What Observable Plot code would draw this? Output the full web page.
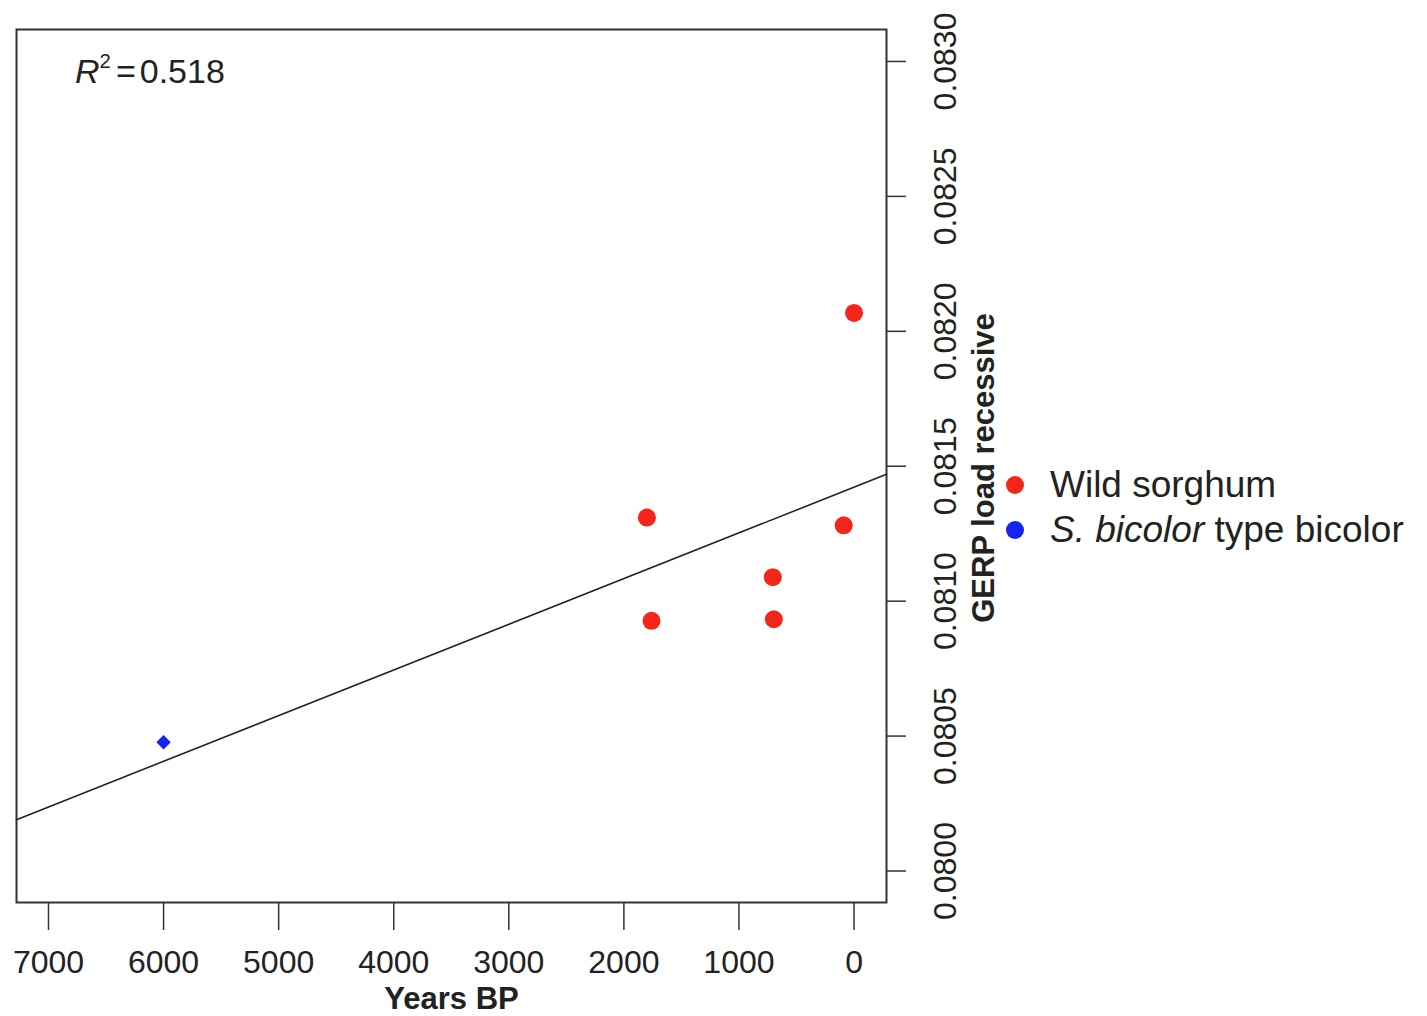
<!DOCTYPE html>
<html><head><meta charset="utf-8">
<script src="https://cdn.jsdelivr.net/npm/d3@7"></script>
<script src="https://cdn.jsdelivr.net/npm/@observablehq/plot@0.6"></script>
<style>
body{margin:0;background:#fff;}
#wrap{position:relative;width:1427px;height:1016px;font-family:"Liberation Sans",Arial,sans-serif;color:#222;}
#r2{position:absolute;left:75px;top:51px;font-size:34px;line-height:40px;white-space:nowrap;}
#r2 sup{font-size:0.6em;vertical-align:0.75em;line-height:0;}
#r2 .eq{margin:0 4px 0 5px;}
.leg{position:absolute;left:1006px;height:44px;display:flex;align-items:center;font-size:37px;white-space:nowrap;}
.leg .dot{width:18px;height:18px;border-radius:50%;margin-right:26px;flex:none;}
</style></head><body><div id="wrap"></div>
<script>
// Data
const years = [0, 1800, 1760, 706, 697, 90, 6000];
const gerp = [0.082068, 0.081310, 0.080927, 0.081089, 0.080933, 0.081281, 0.080477];
const groups = ["Wild sorghum","Wild sorghum","Wild sorghum","Wild sorghum","Wild sorghum","Wild sorghum","S. bicolor type bicolor"];
const xTicks = [0, 1000, 2000, 3000, 4000, 5000, 6000, 7000];
const yTicks = [0.0800, 0.0805, 0.0810, 0.0815, 0.0820, 0.0825, 0.0830];
const xDomain = [7278, -282];
const yDomain = [0.0798833, 0.0831185];
const r2Label = "0.518";
const legendItems = ["Wild sorghum", "S. bicolor type bicolor"];
const colors = {"Wild sorghum": "#f2261a", "S. bicolor type bicolor": "#1622ee"};

const rows = years.map((x, i) => ({x, y: gerp[i], g: groups[i]}));
const wild = rows.filter(d => d.g === "Wild sorghum");
const bic = rows.filter(d => d.g !== "Wild sorghum");

// least squares fit (abline across plot)
const mx = d3.mean(rows, d => d.x), my = d3.mean(rows, d => d.y);
const slope = d3.sum(rows, d => (d.x - mx) * (d.y - my)) / d3.sum(rows, d => (d.x - mx) ** 2);
const icpt = my - slope * mx;
const fit = xDomain.map(x => ({x, y: icpt + slope * x}));

const plot = Plot.plot({
  width: 1427, height: 1016,
  marginTop: 29, marginRight: 541, marginBottom: 114, marginLeft: 16,
  style: {fontFamily: "'Liberation Sans', Arial, sans-serif", fontSize: "32px", color: "#222", background: "#fff"},
  x: {domain: xDomain, range: [16, 886]},
  y: {domain: yDomain},
  marks: [
    Plot.frame({stroke: "#333", strokeWidth: 2}),
    Plot.line(fit, {x: "x", y: "y", stroke: "#222", strokeWidth: 1.6}),
    Plot.dot(wild, {x: "x", y: "y", r: 9, fill: colors["Wild sorghum"], stroke: "none"}),
    Plot.dot(bic, {x: "x", y: "y", r: 6.5, symbol: "diamond2", fill: colors["S. bicolor type bicolor"], stroke: "none"}),
    Plot.axisX({ticks: xTicks, tickSize: 28, tickPadding: 20, tickFormat: d => String(d), label: null, stroke: "#333", strokeWidth: 1.5, fontSize: 32}),
    Plot.axisY({anchor: "right", ticks: yTicks, tickSize: 19, tickFormat: () => "", label: null, stroke: "#333", strokeWidth: 1.5}),
    Plot.text(yTicks, {y: d => d, frameAnchor: "right", dx: 59, rotate: -90, text: d => d.toFixed(4), fontSize: 32, textAnchor: "middle", lineAnchor: "middle", fill: "#222"}),
    Plot.text(["GERP load recessive"], {frameAnchor: "right", dx: 98, dy: 2, rotate: -90, text: d => d, fontWeight: "bold", fontSize: 31, textAnchor: "middle", lineAnchor: "middle", fill: "#222"}),
    Plot.text(["Years BP"], {frameAnchor: "bottom", dy: 97, text: d => d, fontWeight: "bold", fontSize: 31, textAnchor: "middle", lineAnchor: "middle", fill: "#222"})
  ]
});
const wrap = document.getElementById("wrap");
wrap.appendChild(plot);

const r2 = document.createElement("div");
r2.id = "r2";
r2.innerHTML = `<i>R</i><sup>2</sup><span class="eq">=</span>${r2Label}`;
wrap.appendChild(r2);

const legTops = [463, 508];
legendItems.forEach((name, i) => {
  const el = document.createElement("div");
  el.className = "leg";
  el.style.top = legTops[i] + "px";
  const label = name.startsWith("S. bicolor") ? `<i>S. bicolor</i>${name.slice(10)}` : name;
  el.innerHTML = `<span class="dot" style="background:${colors[name]}"></span><span>${label}</span>`;
  wrap.appendChild(el);
});
</script></body></html>
